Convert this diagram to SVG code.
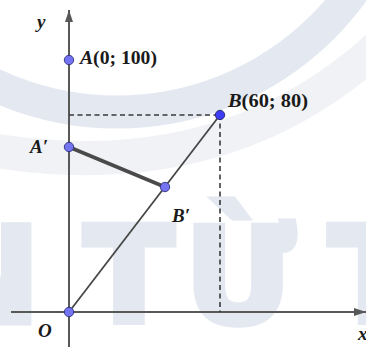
<svg xmlns="http://www.w3.org/2000/svg" width="366" height="347" viewBox="0 0 366 347">
<style>
.wm{font-family:"DejaVu Sans","Liberation Sans",sans-serif;font-weight:bold;font-size:131px;fill:#e4e8f1;stroke:#e4e8f1;stroke-width:7;stroke-linejoin:miter}
.axis{stroke:#585858;stroke-width:2;fill:none}
.seg{stroke:#474747;stroke-width:1.8;fill:none}
.thick{stroke:#4a4a4a;stroke-width:3.6;fill:none;stroke-linecap:round}
.dash{stroke:#3a3a3a;stroke-width:1.6;fill:none;stroke-dasharray:5 3.5}
.pt{fill:#7474f2;stroke:#2e2e7a;stroke-width:0.9}
.ptB{fill:#3d3df2;stroke:#22226e;stroke-width:0.9}
.lbl{font-family:"Liberation Serif","DejaVu Serif",serif;font-weight:bold;font-size:19px;fill:#1a1a1a}
.it{font-style:italic}
</style>
<defs>
<marker id="arr" viewBox="0 0 12 8" refX="12" refY="4" markerWidth="12" markerHeight="8" markerUnits="userSpaceOnUse" orient="auto">
<path d="M0,0 L12,4 L0,8 Z" fill="#585858"/>
</marker>
</defs>
<rect width="366" height="347" fill="#ffffff"/>
<g id="watermark">
<circle cx="117" cy="-179" r="291" fill="none" stroke="#e3e8f1" stroke-width="33"/>
<path d="M-10,150 C100,168 250,165 380,45" fill="none" stroke="#f1f2f6" stroke-width="34"/>
<text class="wm" x="40" y="322" text-anchor="end">N</text>
<text class="wm" x="129" y="322" text-anchor="middle">T</text>
<text class="wm" x="185" y="322">Ừ</text>
<text class="wm" x="329" y="322">T</text>
</g>
<g id="connectors">
<line class="axis" x1="11" y1="312" x2="366" y2="312" marker-end="url(#arr)"/>
<line class="axis" x1="69" y1="347" x2="69" y2="10" marker-end="url(#arr)"/>
<line class="dash" x1="69" y1="115" x2="220" y2="115"/>
<line class="dash" x1="220" y1="115" x2="220" y2="312"/>
<line class="seg" x1="69" y1="312" x2="220" y2="115"/>
<line class="thick" x1="69" y1="147" x2="165" y2="187"/>
</g>
<g id="node-A"><circle class="pt" cx="69" cy="60" r="4.7"/><text class="lbl" x="80" y="63.5" textLength="77" lengthAdjust="spacingAndGlyphs"><tspan class="it">A</tspan>(0; 100)</text></g>
<g id="node-A1"><circle class="pt" cx="69" cy="147" r="4.7"/><text class="lbl it" x="30" y="153">A′</text></g>
<g id="node-B"><circle class="ptB" cx="220" cy="115" r="4.7"/><text class="lbl" x="228" y="107" textLength="80" lengthAdjust="spacingAndGlyphs"><tspan class="it">B</tspan>(60; 80)</text></g>
<g id="node-B1"><circle class="pt" cx="165" cy="187" r="4.7"/><text class="lbl it" x="172" y="222">B′</text></g>
<g id="node-O"><circle class="pt" cx="69" cy="312" r="4.7"/><text class="lbl it" x="38" y="337">O</text></g>
<g id="label-y"><text class="lbl it" x="37" y="28">y</text></g>
<g id="label-x"><text class="lbl it" x="358" y="340">x</text></g>
</svg>
